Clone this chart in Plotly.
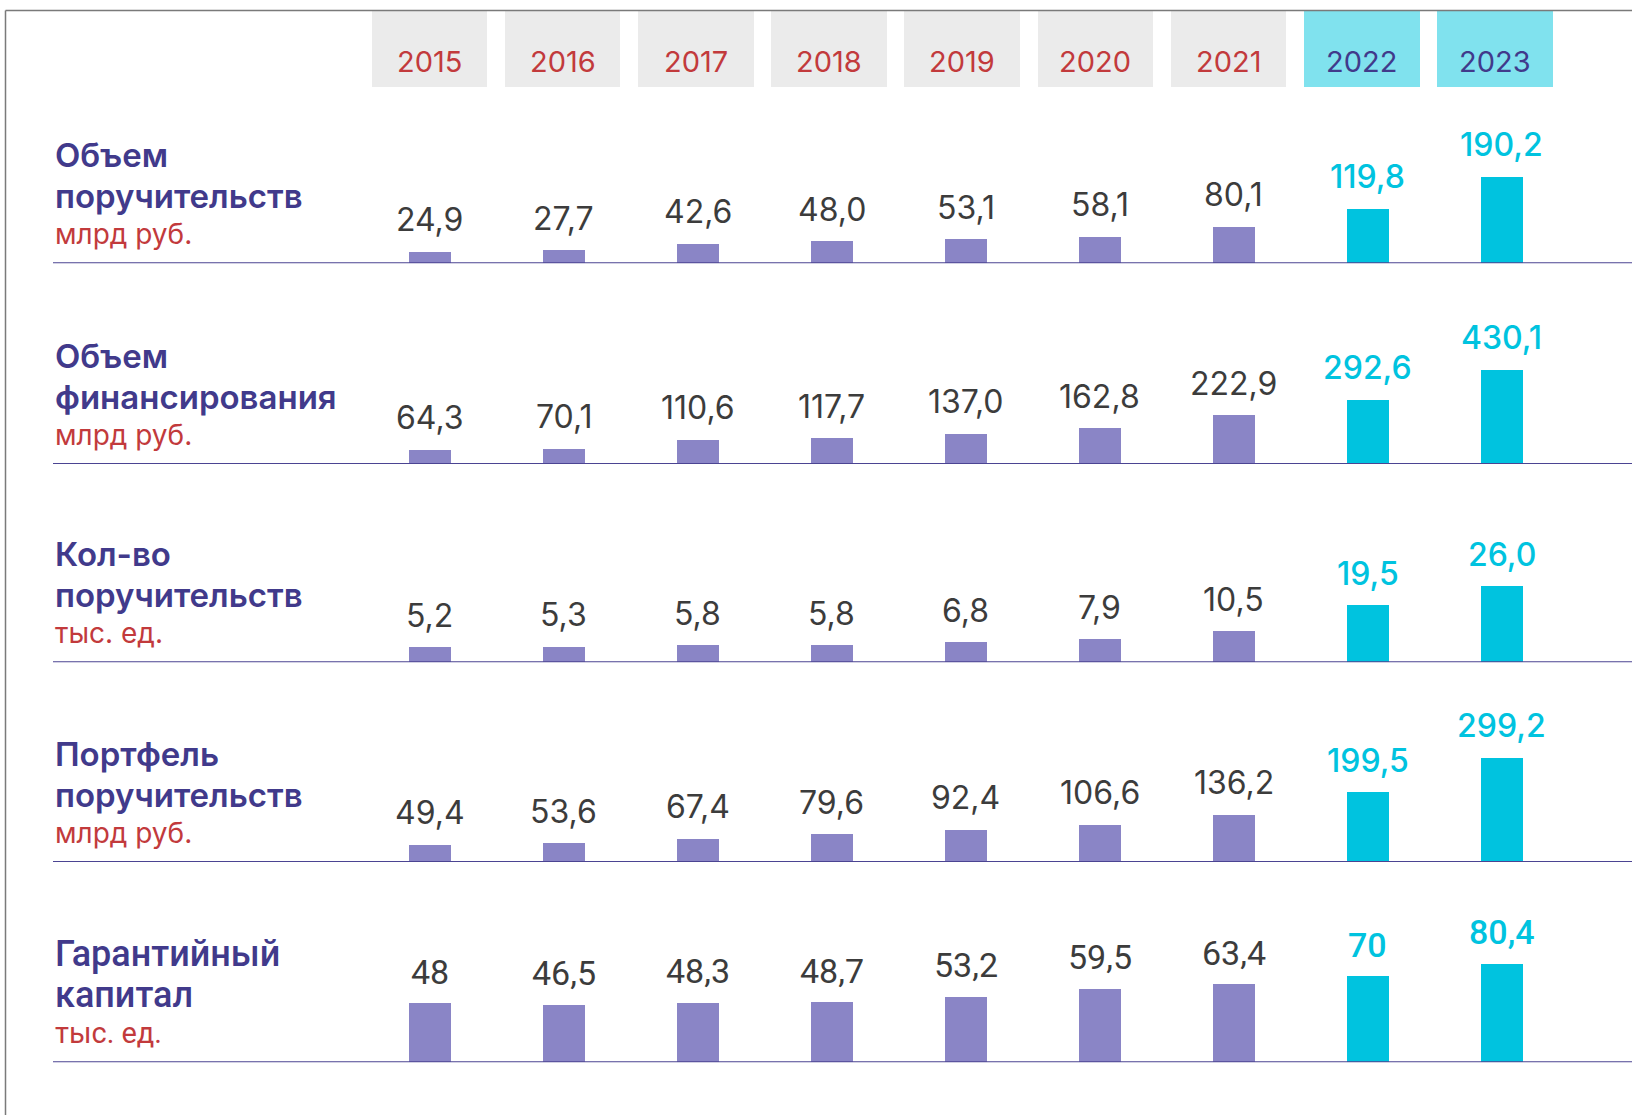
import plotly.graph_objects as go

# ---------------- data ----------------
years = ["2015", "2016", "2017", "2018", "2019", "2020", "2021", "2022", "2023"]
highlight_years = ["2022", "2023"]

row_titles = [
    ["Объем", "поручительств"],
    ["Объем", "финансирования"],
    ["Кол-во", "поручительств"],
    ["Портфель", "поручительств"],
    ["Гарантийный", "капитал"],
]
row_units = ["млрд руб.", "млрд руб.", "тыс. ед.", "млрд руб.", "тыс. ед."]

vol_guarantees = [24.9, 27.7, 42.6, 48.0, 53.1, 58.1, 80.1, 119.8, 190.2]
vol_financing = [64.3, 70.1, 110.6, 117.7, 137.0, 162.8, 222.9, 292.6, 430.1]
num_guarantees = [5.2, 5.3, 5.8, 5.8, 6.8, 7.9, 10.5, 19.5, 26.0]
portfolio = [49.4, 53.6, 67.4, 79.6, 92.4, 106.6, 136.2, 199.5, 299.2]
guarantee_capital = [48, 46.5, 48.3, 48.7, 53.2, 59.5, 63.4, 70, 80.4]

rows = [vol_guarantees, vol_financing, num_guarantees, portfolio, guarantee_capital]

# ---------------- layout constants ----------------
W, H = 1632, 1115
baselines_px = [263.3, 464.0, 662.3, 862.0, 1062.3]
px_per_unit = [1 / 2.201, 1 / 4.555, 1 / 0.342, 1 / 2.869, 1 / 0.817]
band_px = 175

PURPLE_BAR = "#8A85C6"
CYAN = "#00C3DF"
CYAN_LIGHT = "#80E2EE"
GRAY_BOX = "#EBEBEB"
RED = "#C23A3C"
DARK_PURPLE = "#413A8B"
VALUE_GRAY = "#3C3C3C"
LINE = "#4B4492"

FONT_MAIN = "Inter"
FONT_ALT = "Roboto"

HIDDEN = dict(showticklabels=False, showgrid=False, zeroline=False, showline=False,
              ticks="", fixedrange=True)

fig = go.Figure()

# header x-axis (year boxes)
hx0, hstep = 429.4, 133.2
# bar x-axis
bx0, bstep = 429.9, 134.0

layout = dict(
    width=W, height=H,
    margin=dict(l=0, r=0, t=0, b=0),
    paper_bgcolor="white", plot_bgcolor="white",
    showlegend=False,
    bargap=0,
    xaxis=dict(domain=[0, 1], range=[-hx0 / hstep, (W - hx0) / hstep], type="category",
               anchor="y", **HIDDEN),
    xaxis2=dict(domain=[0, 1], range=[-bx0 / bstep, (W - bx0) / bstep], type="category",
                anchor="y2", **HIDDEN),
    yaxis=dict(domain=[1 - 87.4 / H, 1 - 10.4 / H], range=[0, 1], anchor="x", **HIDDEN),
)

# header boxes
fig.add_trace(go.Bar(
    x=years, y=[1] * len(years), xaxis="x", yaxis="y",
    marker=dict(color=[CYAN_LIGHT if y in highlight_years else GRAY_BOX for y in years],
                line=dict(width=0)),
    width=115.5 / hstep, hoverinfo="skip",
))

annotations = []
shapes = []
# note: category labels look numeric, so annotations use the category index
for i, y in enumerate(years):
    annotations.append(dict(
        x=i, y=0, xref="x", yref="y", yanchor="middle", xanchor="center", yshift=26,
        text=y, showarrow=False,
        font=dict(family=FONT_MAIN, size=29,
                  color=DARK_PURPLE if y in highlight_years else RED),
    ))

for r, vals in enumerate(rows):
    n = r + 2
    yname = f"y{n}"
    b = baselines_px[r]
    layout[f"yaxis{n}"] = dict(
        domain=[1 - b / H, 1 - (b - band_px) / H],
        range=[0, band_px / px_per_unit[r]],
        anchor="x2", **HIDDEN,
    )
    colors = [CYAN if y in highlight_years else PURPLE_BAR for y in years]
    fig.add_trace(go.Bar(
        x=years, y=vals, xaxis="x2", yaxis=yname,
        marker=dict(color=colors, line=dict(width=0)),
        width=42 / bstep, hoverinfo="skip",
    ))
    alt = (r == 4)
    fam = FONT_ALT if alt else FONT_MAIN
    for i, (y, v) in enumerate(zip(years, vals)):
        if alt:
            txt = (f"{v:g}").replace(".", ",")
        else:
            txt = f"{v:.1f}".replace(".", ",")
        hl = y in highlight_years
        annotations.append(dict(
            x=i, y=v, xref="x2", yref=yname, yanchor="middle", xanchor="center", yshift=32,
            text=txt, showarrow=False,
            font=dict(family=fam, size=34 if alt else 32, color=CYAN if hl else VALUE_GRAY,
                      weight=500 if hl else 400),
        ))
    # row labels
    t1, t2 = row_titles[r]
    for txt, off, col, size, wt in [
        (t1, 108, DARK_PURPLE, 36 if alt else 33, 500 if alt else 600),
        (t2, 67, DARK_PURPLE, 36 if alt else 33, 500 if alt else 600),
        (row_units[r], 29, RED, 29 if alt else 28, 400),
    ]:
        annotations.append(dict(
            x=53 / W, y=0, xref="paper", yref=f"{yname} domain",
            xanchor="left", yanchor="middle", yshift=off,
            text=txt, showarrow=False,
            font=dict(family=fam, size=size, color=col, weight=wt),
        ))
    # baseline
    shapes.append(dict(
        type="line", xref="paper", yref=yname, x0=53 / W, x1=1, y0=0, y1=0,
        line=dict(color=LINE, width=2), layer="above",
    ))

# frame
fx = 5.5 / W
fy = 1 - 10.5 / H
shapes.append(dict(type="line", xref="paper", yref="paper", x0=fx, x1=fx, y0=0, y1=fy,
                   line=dict(color="#7A7A7A", width=1.5)))
shapes.append(dict(type="line", xref="paper", yref="paper", x0=fx, x1=1, y0=fy, y1=fy,
                   line=dict(color="#7A7A7A", width=1.5)))

layout["annotations"] = annotations
layout["shapes"] = shapes
fig.update_layout(**layout)

fig.write_html("out.html", config={"displayModeBar": False},
               post_script="document.body.style.margin='0';document.body.style.overflow='hidden';")
